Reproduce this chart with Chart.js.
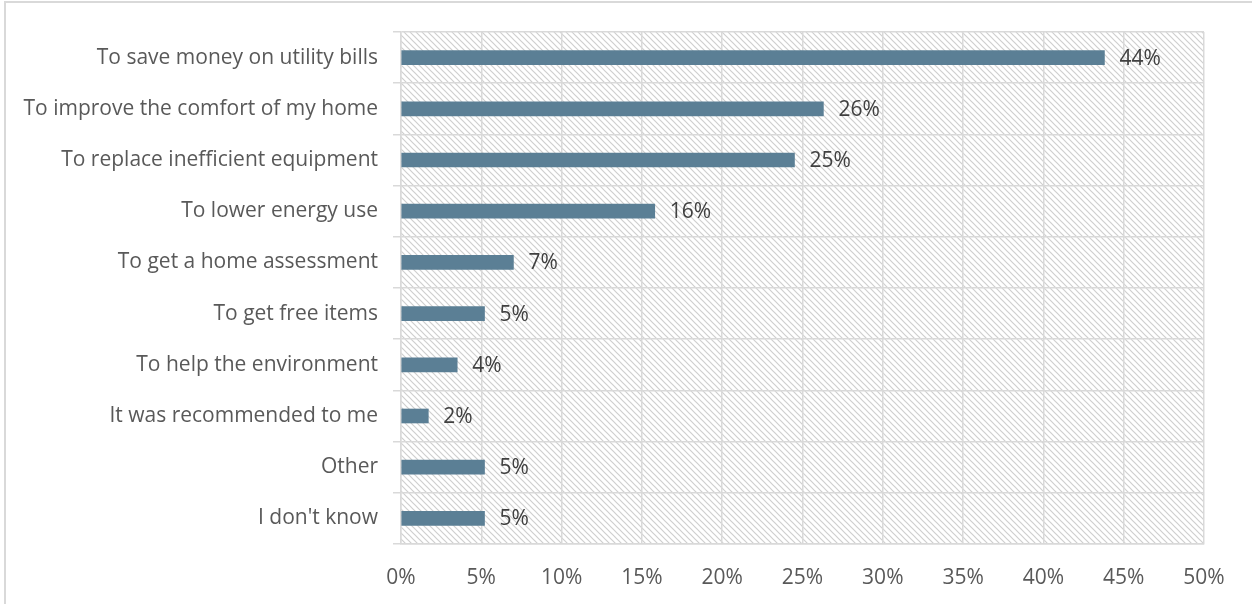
<!DOCTYPE html>
<html>
<head>
<meta charset="utf-8">
<script src="https://cdn.jsdelivr.net/npm/chart.js@4.4.1/dist/chart.umd.min.js"></script>
<style>
  html, body { margin: 0; padding: 0; background: #fff; }
  #wrap { position: relative; width: 1252px; height: 604px; }
  #frame {
    position: absolute; left: 4px; top: 1px; width: 1260px; height: 620px;
    border: 2px solid #d9d9d9; box-sizing: border-box; pointer-events: none;
  }
</style>
</head>
<body>
<div id="wrap">
  <canvas id="reasons" width="1252" height="604"></canvas>
  <div id="frame"></div>
</div>
<script>
// categories and share of respondents (%)
const reasons = [
  'To save money on utility bills',
  'To improve the comfort of my home',
  'To replace inefficient equipment',
  'To lower energy use',
  'To get a home assessment',
  'To get free items',
  'To help the environment',
  'It was recommended to me',
  'Other',
  "I don't know"
];
const shares = [43.8, 26.3, 24.5, 15.8, 7.0, 5.2, 3.5, 1.7, 5.2, 5.2];
const xTicks = [0, 5, 10, 15, 20, 25, 30, 35, 40, 45, 50];

const FONT = "'Open Sans', sans-serif";
const FONT_SIZE = 21;

// diagonal hatch behind the plot area
function makeHatch(ctx) {
  const tile = document.createElement('canvas');
  tile.width = 6; tile.height = 6;
  const t = tile.getContext('2d');
  t.fillStyle = '#ffffff';
  t.fillRect(0, 0, 6, 6);
  t.strokeStyle = '#cfcfcf';
  t.lineWidth = 1.2;
  t.beginPath();
  t.moveTo(-1, -1); t.lineTo(7, 7);
  t.moveTo(-1, 5); t.lineTo(1, 7);
  t.moveTo(5, -1); t.lineTo(7, 1);
  t.stroke();
  return ctx.createPattern(tile, 'repeat');
}

const hatchBg = {
  id: 'hatchBg',
  beforeDraw(chart) {
    const { ctx, chartArea: a } = chart;
    ctx.save();
    ctx.fillStyle = makeHatch(ctx);
    ctx.fillRect(a.left, a.top, a.right - a.left, a.bottom - a.top);
    ctx.restore();
  }
};

// percent labels to the right of each bar
const barLabels = {
  id: 'barLabels',
  afterDatasetsDraw(chart) {
    const { ctx } = chart;
    const meta = chart.getDatasetMeta(0);
    ctx.save();
    ctx.font = FONT_SIZE + 'px ' + FONT;
    ctx.fillStyle = '#404040';
    ctx.textBaseline = 'middle';
    ctx.textAlign = 'left';
    meta.data.forEach((bar, i) => {
      ctx.fillText(Math.round(shares[i]) + '%', bar.x + 15, bar.y + 1);
    });
    ctx.restore();
  }
};

new Chart(document.getElementById('reasons'), {
  type: 'bar',
  data: {
    labels: reasons,
    datasets: [{
      data: shares,
      backgroundColor: '#5b7f95',
      barThickness: 14
    }]
  },
  options: {
    indexAxis: 'y',
    responsive: false,
    animation: false,
    layout: { padding: { top: 32, right: 48, left: 0, bottom: 0 } },
    plugins: {
      legend: { display: false },
      tooltip: { enabled: false }
    },
    scales: {
      x: {
        min: 0,
        max: 50,
        afterBuildTicks(scale) {
          scale.ticks = xTicks.map(v => ({ value: v }));
        },
        afterFit(scale) { scale.height = 60; },
        grid: { color: '#d9d9d9', lineWidth: 1.5, drawTicks: false },
        border: { color: '#d9d9d9', width: 1.5 },
        ticks: {
          color: '#595959',
          font: { family: FONT, size: FONT_SIZE },
          padding: 21,
          callback: v => v + '%'
        }
      },
      y: {
        afterFit(scale) { scale.width = 401; },
        grid: { color: '#d9d9d9', lineWidth: 1.5, offset: true, tickLength: 8 },
        border: { color: '#d9d9d9', width: 1.5 },
        ticks: {
          color: '#595959',
          font: { family: FONT, size: FONT_SIZE },
          padding: 15
        }
      }
    }
  },
  plugins: [hatchBg, barLabels]
});
</script>
</body>
</html>
